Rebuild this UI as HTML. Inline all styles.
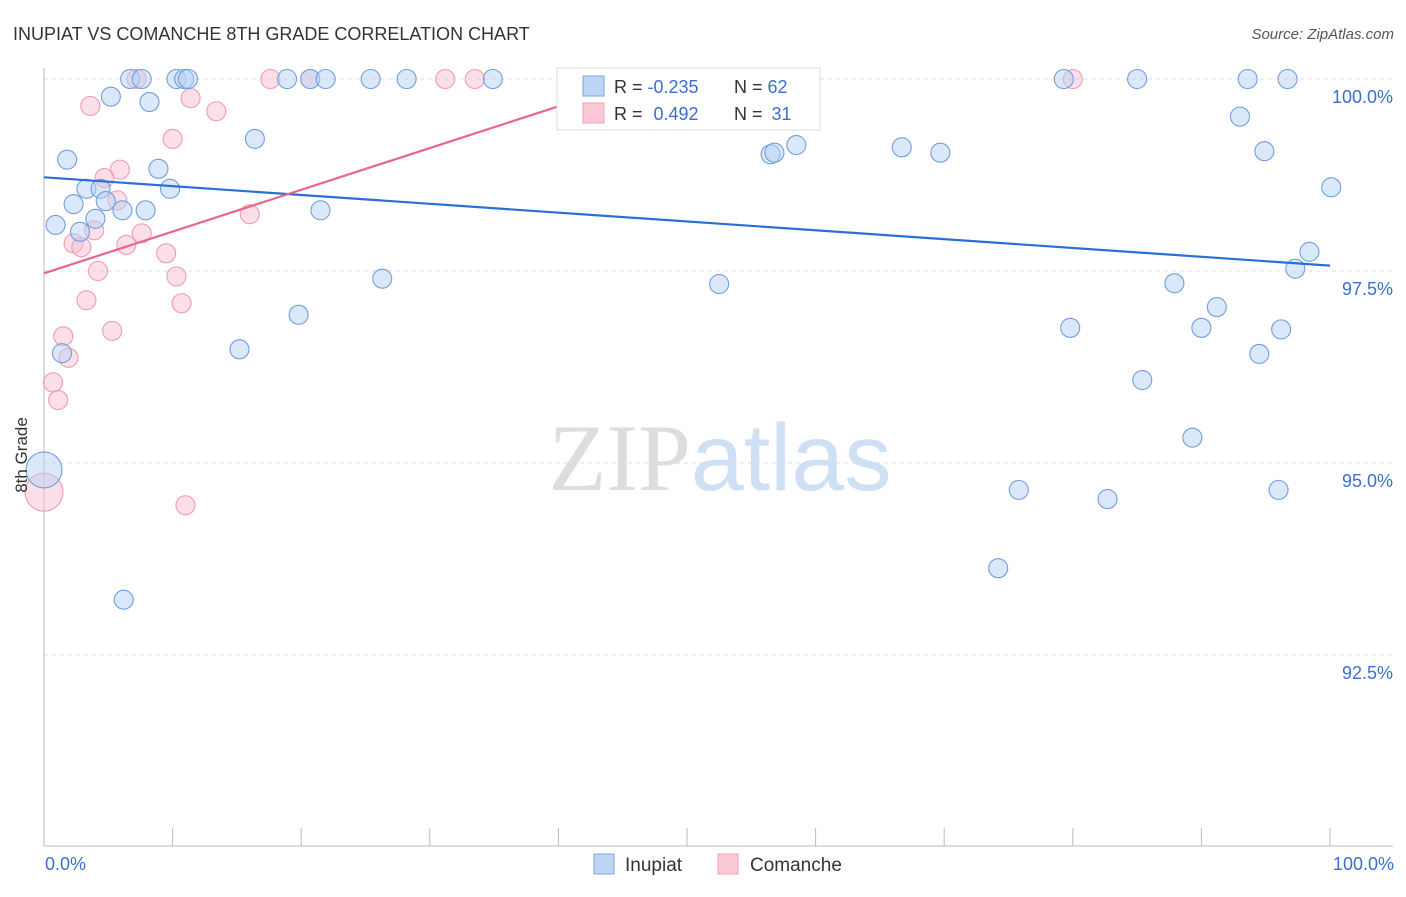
<!DOCTYPE html>
<html><head><meta charset="utf-8"><style>
body{margin:0;background:#fff;font-family:"Liberation Sans",sans-serif;}
svg text{font-family:"Liberation Sans",sans-serif;}
</style></head><body>
<svg id="chart" width="1406" height="892" xmlns="http://www.w3.org/2000/svg">
<text x="13" y="40" font-size="18" fill="#333">INUPIAT VS COMANCHE 8TH GRADE CORRELATION CHART</text>
<text x="1394" y="39" font-size="15" fill="#555" text-anchor="end" font-style="italic">Source: ZipAtlas.com</text>
<text x="720" y="490" font-size="95" text-anchor="middle"><tspan fill="#ddd" font-family="Liberation Serif">ZIP</tspan><tspan fill="#cfe0f5">atlas</tspan></text>
<g id="grid"></g>
<g id="axes"></g>
<g id="marks"></g>
<text transform="translate(27,455) rotate(-90)" font-size="17" fill="#333" text-anchor="middle">8th Grade</text>
<text x="45" y="870" font-size="18" fill="#3a6fd0">0.0%</text>
<text x="1394" y="870" font-size="18" fill="#3a6fd0" text-anchor="end">100.0%</text>
<g>
<rect x="557" y="68" width="263" height="62" fill="#fff" stroke="#ddd"/>
<rect x="583" y="76" width="21" height="20" fill="#bcd5f5" stroke="#7aa6e0"/>
<rect x="583" y="103" width="21" height="20" fill="#fbc8d6" stroke="#f0a0b8"/>
<text x="614" y="93" font-size="18" fill="#333">R = <tspan fill="#3a6fd0">-0.235</tspan></text>
<text x="734" y="93" font-size="18" fill="#333">N = <tspan fill="#3a6fd0">62</tspan></text>
<text x="614" y="120" font-size="18" fill="#333">R =  <tspan fill="#3a6fd0" dx="6">0.492</tspan></text>
<text x="734" y="120" font-size="18" fill="#333">N =  <tspan fill="#3a6fd0" dx="4">31</tspan></text>
</g>
<g>
<rect x="594" y="854" width="20" height="20" fill="#bcd5f5" stroke="#7aa6e0"/>
<text x="625" y="871" font-size="19" fill="#333">Inupiat</text>
<rect x="718" y="854" width="20" height="20" fill="#fbc8d6" stroke="#f0a0b8"/>
<text x="750" y="871" font-size="19" fill="#333">Comanche</text>
</g>
</svg>
<script>
const yTicks=[100,97.5,95,92.5];
const yTickLabels=["100.0%","97.5%","95.0%","92.5%"];
const xTicks=[0,10,20,30,40,50,60,70,80,90,100];
const inupiatX=[6.7,7.6,10.3,10.9,11.2,18.9,20.7,21.9,25.4,28.2,34.9,47.2,50.0,79.3,85.0,93.6,96.7,5.2,8.2,1.8,16.4,8.9,3.3,4.4,9.8,2.3,4.8,4.0,6.1,7.9,0.9,2.8,21.5,26.3,19.8,15.2,1.4,6.2,0,56.5,56.8,58.5,66.7,69.7,93.0,94.9,100.1,98.4,97.3,52.5,87.9,91.2,79.8,90.0,96.2,94.5,85.4,89.3,75.8,82.7,96.0,74.2];
const inupiatY=[100,100,100,100,100,100,100,100,100,100,100,100,100,100,100,100,100,99.77,99.70,98.95,99.22,98.83,98.57,98.57,98.57,98.37,98.41,98.18,98.29,98.29,98.10,98.01,98.29,97.40,96.93,96.48,96.43,93.22,94.91,99.02,99.04,99.14,99.11,99.04,99.51,99.06,98.59,97.75,97.53,97.33,97.34,97.03,96.76,96.76,96.74,96.42,96.08,95.33,94.65,94.53,94.65,93.63];
const comancheX=[7.2,17.6,20.7,31.2,33.5,80.0,3.6,11.4,13.4,10.0,5.9,4.7,5.7,16.0,3.9,7.6,2.3,2.9,6.4,9.5,4.2,10.3,3.3,10.7,1.5,5.3,1.9,0.7,1.1,0,11.0];
const comancheY=[100,100,100,100,100,100,99.65,99.75,99.58,99.22,98.82,98.71,98.42,98.24,98.03,97.99,97.86,97.81,97.84,97.73,97.50,97.43,97.12,97.08,96.65,96.72,96.37,96.05,95.82,94.62,94.45];
const inupiatTrend=[98.72,97.57];
const comancheTrend=[97.47,100.03];
const comancheTrendEnd=47.1;
const X0=44,X1=1330,Y0=79;
function sx(v){return X0+(X1-X0)*v/100;}
function sy(v){return Y0+(100-v)*76.8;}
const NS="http://www.w3.org/2000/svg";
function mk(t,a,p){const e=document.createElementNS(NS,t);for(const k in a)e.setAttribute(k,a[k]);p.appendChild(e);return e;}
const grid=document.getElementById('grid'),axes=document.getElementById('axes'),marks=document.getElementById('marks');
yTicks.forEach((v,i)=>{
  const l=mk('line',{x1:44,x2:1393,y1:sy(v),y2:sy(v),stroke:'#ddd','stroke-dasharray':'4,4'},grid);
  
  
  const t=mk('text',{x:1393,y:sy(v)+24,'font-size':18,fill:'#3a6fd0','text-anchor':'end'},axes);
  t.textContent=yTickLabels[i];
  
  
});
mk('line',{x1:44,x2:44,y1:68,y2:846,stroke:'#bbb'},axes);
mk('line',{x1:44,x2:1393,y1:846,y2:846,stroke:'#bbb'},axes);
xTicks.forEach(v=>{
  const l=mk('line',{x1:sx(v),x2:sx(v),y1:828,y2:846,stroke:'#bbb'},axes);
  
  
});
function dot(x,y,r,fill,stroke,name){
  const c=mk('circle',{cx:sx(x),cy:sy(y),r:r,fill:fill,'fill-opacity':0.5,stroke:stroke,'stroke-width':1.1},marks);
  
  
}
comancheX.forEach((x,i)=>dot(x,comancheY[i],x===0&&comancheY[i]<95?19:9.5,'#f9bfd0','#f19ab4','comanche-point'));
inupiatX.forEach((x,i)=>dot(x,inupiatY[i],x===0&&inupiatY[i]<95.5?18:9.5,'#b8d2f3','#6f9fe0','inupiat-point'));
const bl=mk('line',{x1:sx(0),y1:sy(inupiatTrend[0]),x2:sx(100),y2:sy(inupiatTrend[1]),stroke:'#2a6fd6','stroke-width':2.2},marks);


const pl=mk('line',{x1:sx(0),y1:sy(comancheTrend[0]),x2:sx(comancheTrendEnd),y2:sy(comancheTrend[1]),stroke:'#e8668e','stroke-width':2.2},marks);


</script>
</body></html>
